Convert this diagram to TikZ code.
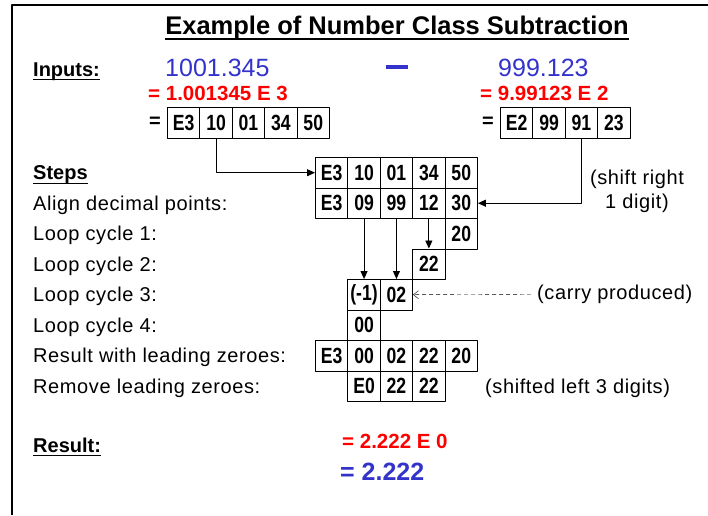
\documentclass[tikz,border=0pt]{standalone}
\usepackage{fontspec}
\setmainfont{Liberation Sans}
\newfontfamily\lblfont[LetterSpace=3]{Liberation Sans}
\newfontfamily\cellfont[FakeStretch=0.8]{Liberation Sans}
\usetikzlibrary{arrows.meta,positioning}
\definecolor{numblue}{RGB}{51,51,204}
\definecolor{numred}{RGB}{255,0,0}
\begin{document}
\begin{tikzpicture}[x=1pt,y=-1pt,>={Triangle[length=8pt,width=7pt]},line join=round]
	\tikzset{cell/.style={draw,line width=0.9pt,minimum width=32.4pt,minimum height=30.5pt,inner sep=0pt,anchor=north west,font=\cellfont\bfseries\fontsize{22}{22}\selectfont},
		lbl/.style={anchor=base west,inner sep=0pt,font=\lblfont\fontsize{20}{24}\selectfont},
		head/.style={anchor=base west,inner sep=0pt,font=\bfseries\fontsize{20}{24}\selectfont},
		uline/.style={line width=1.5pt},
		bignum/.style={anchor=base west,inner sep=0pt,text=numblue,font=\fontsize{25}{30}\selectfont},
		rednum/.style={anchor=base west,inner sep=0pt,text=numred,font=\bfseries\fontsize{20.5}{24}\selectfont}}
	\useasboundingbox (0,0) rectangle (708,515);
	%% cell size and grid origin
	\def\cw{32.4}
	\def\ch{30.5}
	\def\gx{315}
	\def\gy{157}
	%% frame
	\draw[line width=1.5pt] (12,515) -- (12,5) -- (708,5);
	%% title
	\node[anchor=base,inner sep=0pt,font=\bfseries\fontsize{25.5}{30}\selectfont] (title) at (397,34) {Example of Number Class Subtraction};
	\draw[uline] ([yshift=-5pt]title.base west) -- ([yshift=-5pt]title.base east);
	%% inputs
	\node[head] (inputs) at (33,76) {Inputs:};
	\draw[uline] ([yshift=-3.5pt]inputs.base west) -- ([yshift=-3.5pt]inputs.base east);
	\node[bignum] (numa) at (165,76) {1001.345};
	\node[inner sep=0pt,text=numblue] (minus) at (397,67) {\rule{22pt}{4pt}};
	\node[bignum] (numb) at (498,76) {999.123};
	\node[rednum] (expa) at (148,100) {= 1.001345 E 3};
	\node[rednum] (expb) at (480,100) {= 9.99123 E 2};
	\foreach \t [count=\j from 0] in {E3,10,01,34,50}
		\node[cell] (p\j) at ({167+\j*\cw},107) {\t};
	\foreach \t [count=\j from 0] in {E2,99,91,23}
		\node[cell] (q\j) at ({500+\j*\cw},107) {\t};
	\node[head,anchor=center,left=6pt of p0] (eqa) {=};
	\node[head,anchor=center,left=6pt of q0] (eqb) {=};
	%% steps
	\node[head] (steps) at (33,{\gy+0.5*\ch+7.5}) {Steps};
	\draw[uline] ([yshift=-3.5pt]steps.base west) -- ([yshift=-3.5pt]steps.base east);
	\foreach \t [count=\i from 1] in {Align decimal points:,Loop cycle 1:,Loop cycle 2:,Loop cycle 3:,Loop cycle 4:,Result with leading zeroes:,Remove leading zeroes:}
		\node[lbl] (step\i) at (33,{\gy+(\i+0.5)*\ch+7.5}) {\t};
	%% grid
	\foreach \t [count=\j from 0] in {E3,10,01,34,50}
		\node[cell] (a\j) at ({\gx+\j*\cw},\gy) {\t};
	\foreach \t [count=\j from 0] in {E3,09,99,12,30}
		\node[cell] (b\j) at ({\gx+\j*\cw},{\gy+\ch}) {\t};
	\node[cell] (c4) at ({\gx+4*\cw},{\gy+2*\ch}) {20};
	\node[cell] (d3) at ({\gx+3*\cw},{\gy+3*\ch}) {22};
	\node[cell] (e1) at ({\gx+\cw},{\gy+4*\ch}) {(-1)};
	\node[cell] (e2) at ({\gx+2*\cw},{\gy+4*\ch}) {02};
	\node[cell] (f1) at ({\gx+\cw},{\gy+5*\ch}) {00};
	\foreach \t [count=\j from 0] in {E3,00,02,22,20}
		\node[cell] (g\j) at ({\gx+\j*\cw},{\gy+6*\ch}) {\t};
	\foreach \t [count=\j from 1] in {E0,22,22}
		\node[cell] (h\j) at ({\gx+\j*\cw},{\gy+7*\ch}) {\t};
	%% notes
	\node[lbl,anchor=center,align=center] (shiftnote) at (637,191) {(shift right\\1 digit)};
	\node[lbl,anchor=west,inner xsep=6pt] (carry) at (531,{\gy+4.5*\ch}) {(carry produced)};
	\node[lbl] (shifted) at (485,{\gy+7.5*\ch+7.5}) {(shifted left 3 digits)};
	%% arrows
	\draw[->,line width=0.9pt] (p1.south) |- (a0.west);
	\draw[->,line width=0.9pt] (q2.south) |- (b4.east);
	\draw[->,line width=0.9pt] (b1.south) -- (e1.north);
	\draw[->,line width=0.9pt] (b2.south) -- (e2.north);
	\draw[->,line width=0.9pt] (b3.south) -- (d3.north);
	\draw[-{Straight Barb[length=5pt,width=8pt]},dash pattern=on 4pt off 3pt] (carry.west) -- (e2.east);
	%% result
	\node[head] (result) at (33,452) {Result:};
	\draw[uline] ([yshift=-3.5pt]result.base west) -- ([yshift=-3.5pt]result.base east);
	\node[rednum] (resexp) at (342,448) {= 2.222 E 0};
	\node[bignum,font=\bfseries\fontsize{25}{30}\selectfont] (resnum) at (340,480) {= 2.222};
\end{tikzpicture}
\end{document}
